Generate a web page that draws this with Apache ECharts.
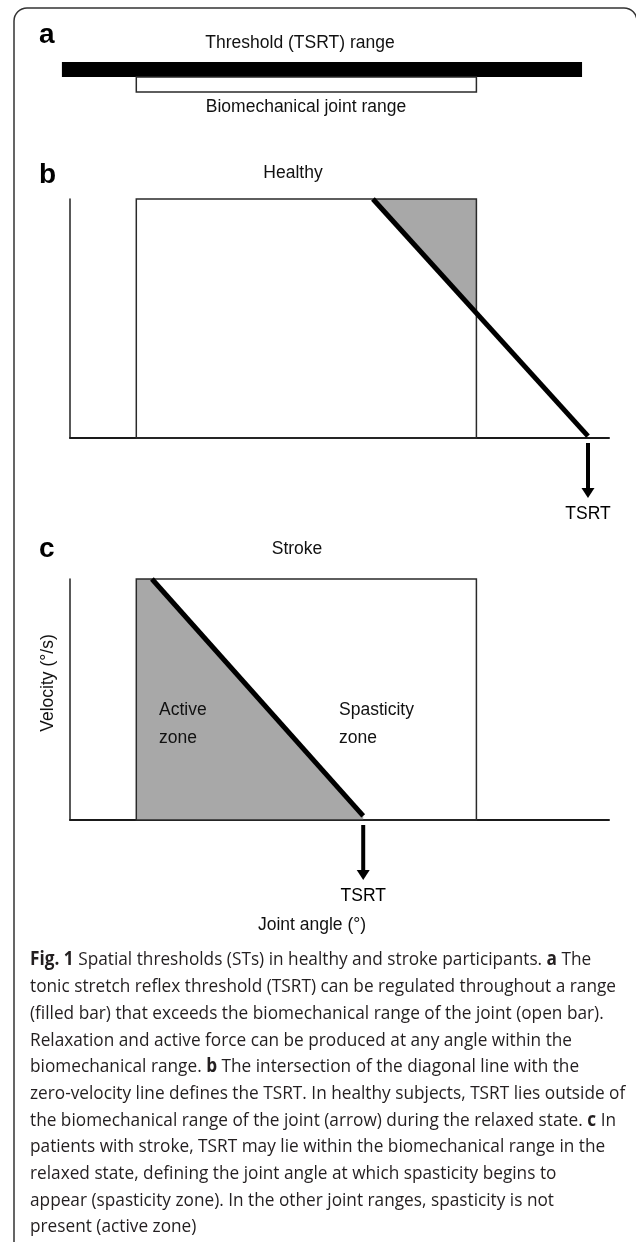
<!DOCTYPE html>
<html><head><meta charset="utf-8">
<script src="https://cdn.jsdelivr.net/npm/echarts@6/dist/echarts.min.js"></script>
<style>html,body{margin:0;padding:0;background:#fff}#c{width:636px;height:1242px}</style>
</head><body><div id="c"></div>
<script>
// ---------- data (joint angle units 0..100, velocity units 0..100) ----------
const tsrtRange = [-1.5, 95.0];          // panel a: filled bar (threshold range)
const jointRange = [12.3, 75.4];         // biomechanical joint range (open bar / box)
const velocityTop = 100;                 // top of the box (velocity)
const healthyLine = [[56.2, 100], [96.1, 0.8]];
const strokeLine = [[15.2, 100], [54.4, 1.7]];
const healthyTSRT = [[96.1, 0]];
const strokeTSRT = [[54.4, 0]];
const panelLetters = ['a', 'b', 'c'];
const panelTitles = ['Threshold (TSRT) range', 'Healthy', 'Stroke'];
const zoneLabels = ['Active\nzone', 'Spasticity\nzone'];
const captionLines = [
  '{b|Fig. 1} Spatial thresholds (STs) in healthy and stroke participants. {b|a} The',
  'tonic stretch reflex threshold (TSRT) can be regulated throughout a range',
  '(filled bar) that exceeds the biomechanical range of the joint (open bar).',
  'Relaxation and active force can be produced at any angle within the',
  'biomechanical range. {b|b} The intersection of the diagonal line with the',
  'zero-velocity line defines the TSRT. In healthy subjects, TSRT lies outside of',
  'the biomechanical range of the joint (arrow) during the relaxed state. {b|c} In',
  'patients with stroke, TSRT may lie within the biomechanical range in the',
  'relaxed state, defining the joint angle at which spasticity begins to',
  'appear (spasticity zone). In the other joint ranges, spasticity is not',
  'present (active zone)'
];

// ---------- styles ----------
const LF = "'Liberation Sans', Arial, Helvetica, sans-serif";
const labelFont = '17.5px ' + LF;
const GRAY = '#a8a8a8';
const capFamily = "'Open Sans', sans-serif";
const capSize = 19;

// caption horizontal fit
function segs(line) {
  const out = []; const re = /\{b\|([^}]*)\}/g; let last = 0, m;
  while ((m = re.exec(line))) {
    if (m.index > last) out.push([line.slice(last, m.index), false]);
    out.push([m[1], true]); last = re.lastIndex;
  }
  if (last < line.length) out.push([line.slice(last), false]);
  return out;
}
const mctx = document.createElement('canvas').getContext('2d');
function measure(line) {
  let w = 0;
  for (const [t, b] of segs(line)) { mctx.font = (b ? 'bold ' : '') + capSize + 'px ' + capFamily; w += mctx.measureText(t).width; }
  return w;
}
const capScale = 586 / measure(captionLines[1]);

const chart = echarts.init(document.getElementById('c'), null, {renderer: 'canvas'});

function hiddenAxis(idx, min, max) {
  return {gridIndex: idx, type: 'value', min: min, max: max, show: false};
}
function shownX(idx) {
  return {gridIndex: idx, type: 'value', min: 0, max: 100,
    axisLine: {show: true, onZero: false, lineStyle: {color: '#1a1a1a', width: 2}},
    axisTick: {show: false}, axisLabel: {show: false}, splitLine: {show: false}};
}
function shownY(idx) {
  return {gridIndex: idx, type: 'value', min: 0, max: velocityTop,
    axisLine: {show: true, onZero: false, lineStyle: {color: '#222', width: 1.5}},
    axisTick: {show: false}, axisLabel: {show: false}, splitLine: {show: false}};
}

function boxSeries(idx) {
  return {type: 'custom', xAxisIndex: idx, yAxisIndex: idx, z: 3, silent: true,
    data: [[jointRange[0], jointRange[1], 0, velocityTop]],
    renderItem: (p, api) => {
      const a = api.coord([api.value(0), api.value(3)]);
      const b = api.coord([api.value(1), api.value(2)]);
      return {type: 'rect', shape: {x: a[0], y: a[1], width: b[0] - a[0], height: b[1] - a[1]},
        style: {fill: 'none', stroke: '#2a2a2a', lineWidth: 1.5}};
    }};
}
function lineSeries(idx, pts) {
  return {type: 'line', xAxisIndex: idx, yAxisIndex: idx, z: 4, silent: true, symbol: 'none',
    data: pts, lineStyle: {color: '#000', width: 5, cap: 'butt'}};
}
function arrowSeries(idx, pts) {
  return {type: 'custom', xAxisIndex: idx, yAxisIndex: idx, z: 4, silent: true, data: pts,
    renderItem: (p, api) => {
      const c = api.coord([api.value(0), api.value(1)]);
      const x = c[0], y = c[1];
      return {type: 'group', children: [
        {type: 'rect', shape: {x: x - 2, y: y + 5, width: 4, height: 46}, style: {fill: '#000'}},
        {type: 'polygon', shape: {points: [[x - 6.5, y + 50], [x + 6.5, y + 50], [x, y + 60]]}, style: {fill: '#000'}},
        {type: 'text', x: x, y: y + 76, style: {text: 'TSRT', fill: '#000', font: labelFont, align: 'center', verticalAlign: 'middle'}}
      ]};
    }};
}

// intersection of a line with a vertical edge
function yAtX(line, x) {
  const [p0, p1] = line;
  return p0[1] + (x - p0[0]) * (p1[1] - p0[1]) / (p1[0] - p0[0]);
}

const graphics = [
  {type: 'rect', shape: {x: 14, y: 8, width: 623, height: 1300, r: 13}, style: {fill: 'none', stroke: '#333', lineWidth: 1.5}, silent: true},
  {type: 'text', x: 39, y: 21, style: {text: panelLetters[0], font: 'bold 28px ' + LF, fill: '#000', verticalAlign: 'top'}},
  {type: 'text', x: 39, y: 161, style: {text: panelLetters[1], font: 'bold 28px ' + LF, fill: '#000', verticalAlign: 'top'}},
  {type: 'text', x: 39, y: 535, style: {text: panelLetters[2], font: 'bold 28px ' + LF, fill: '#000', verticalAlign: 'top'}},
  {type: 'text', x: 300, y: 43, style: {text: panelTitles[0], font: labelFont, fill: '#111', align: 'center', verticalAlign: 'middle'}},
  {type: 'text', x: 306, y: 107, style: {text: 'Biomechanical joint range', font: labelFont, fill: '#111', align: 'center', verticalAlign: 'middle'}},
  {type: 'text', x: 293, y: 173, style: {text: panelTitles[1], font: labelFont, fill: '#111', align: 'center', verticalAlign: 'middle'}},
  {type: 'text', x: 297, y: 549, style: {text: panelTitles[2], font: labelFont, fill: '#111', align: 'center', verticalAlign: 'middle'}},
  {type: 'text', x: 159, y: 724, style: {text: zoneLabels[0], font: labelFont, fill: '#111', align: 'left', verticalAlign: 'middle', lineHeight: 28}},
  {type: 'text', x: 339, y: 724, style: {text: zoneLabels[1], font: labelFont, fill: '#111', align: 'left', verticalAlign: 'middle', lineHeight: 28}},
  {type: 'text', x: 48, y: 683, rotation: Math.PI / 2, style: {text: 'Velocity (°/s)', font: labelFont, fill: '#111', align: 'center', verticalAlign: 'middle'}},
  {type: 'text', x: 312, y: 925, style: {text: 'Joint angle (°)', font: labelFont, fill: '#111', align: 'center', verticalAlign: 'middle'}}
];
captionLines.forEach((ln, i) => {
  graphics.push({type: 'text', x: 30, y: 960 + i * 26.7, scaleX: capScale,
    style: {text: ln, fontFamily: capFamily, fontSize: capSize, fill: '#231f20', align: 'left', verticalAlign: 'middle',
      rich: {b: {fontFamily: capFamily, fontSize: capSize, fontWeight: 'bold', fill: '#231f20'}}}});
});
graphics.forEach(g => { g.z = 100; });

const option = {
  animation: false,
  backgroundColor: '#fff',
  grid: [
    {left: 70, right: 27, top: 62, height: 30, outerBoundsMode: 'none'},
    {left: 70, right: 27, top: 199, height: 239, outerBoundsMode: 'none'},
    {left: 70, right: 27, top: 579, height: 241, outerBoundsMode: 'none'}
  ],
  xAxis: [hiddenAxis(0, 0, 100), shownX(1), shownX(2)],
  yAxis: [hiddenAxis(0, 0, 2), shownY(1), shownY(2)],
  series: [
    // panel a bars
    {type: 'custom', xAxisIndex: 0, yAxisIndex: 0, silent: true,
      data: [[tsrtRange[0], tsrtRange[1], 1, 2, 0], [jointRange[0], jointRange[1], 0, 1, 1]],
      renderItem: (p, api) => {
        const a = api.coord([api.value(0), api.value(3)]);
        const b = api.coord([api.value(1), api.value(2)]);
        const open = api.value(4) === 1;
        return {type: 'rect', shape: {x: a[0], y: a[1], width: b[0] - a[0], height: b[1] - a[1]},
          style: open ? {fill: '#fff', stroke: '#2a2a2a', lineWidth: 1.5} : {fill: '#000'}};
      }},
    // panel b gray triangle
    {type: 'custom', xAxisIndex: 1, yAxisIndex: 1, z: 1, silent: true, data: [[0]],
      renderItem: (p, api) => {
        const pts = [healthyLine[0], [jointRange[1], velocityTop], [jointRange[1], yAtX(healthyLine, jointRange[1])]].map(q => api.coord(q));
        return {type: 'polygon', shape: {points: pts}, style: {fill: GRAY}};
      }},
    boxSeries(1), lineSeries(1, healthyLine), arrowSeries(1, healthyTSRT),
    // panel c gray region (active zone)
    {type: 'custom', xAxisIndex: 2, yAxisIndex: 2, z: 1, silent: true, data: [[0]],
      renderItem: (p, api) => {
        const pts = [[jointRange[0], velocityTop], strokeLine[0], strokeLine[1], [strokeLine[1][0], 0], [jointRange[0], 0]].map(q => api.coord(q));
        return {type: 'polygon', shape: {points: pts}, style: {fill: GRAY}};
      }},
    boxSeries(2), lineSeries(2, strokeLine), arrowSeries(2, strokeTSRT)
  ],
  graphic: graphics
};
chart.setOption(option);
</script></body></html>
